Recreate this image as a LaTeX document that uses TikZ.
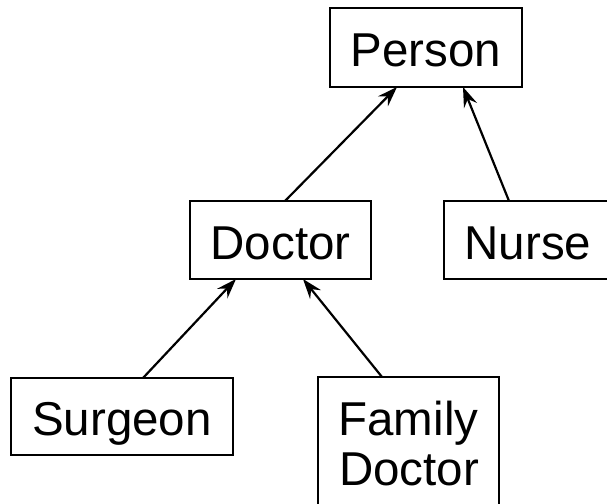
\documentclass[tikz,border=0pt]{standalone}
\usepackage{fontspec}
\setmainfont{Liberation Sans}
\usetikzlibrary{arrows.meta}

\tikzset{
  classbox/.style={draw, line width=2.2pt, inner sep=0pt, outer sep=0pt,
    text height=38pt, text depth=0pt,
    font=\fontsize{47.5}{50}\selectfont},
  boxlabel/.style={inner sep=0pt, outer sep=0pt,
    font=\fontsize{47.5}{50}\selectfont},
  inherits/.style={line width=2.2pt,
    -{Stealth[length=20pt, width=14pt, inset=7pt]}}
}

\begin{document}
\begin{tikzpicture}[x=1pt, y=-1pt]
  \useasboundingbox (0,0) rectangle (607,503);
  \clip (0,0) rectangle (607,503);

  % class boxes
  \node[classbox, minimum width=192pt, minimum height=79pt] (person)  at (426,47.5)  {Person};
  \node[classbox, minimum width=181pt, minimum height=78pt] (doctor)  at (280.5,240) {Doctor};
  \node[classbox, minimum width=168pt, minimum height=78pt] (nurse)   at (528,240)   {Nurse};
  \node[classbox, minimum width=222pt, minimum height=77pt] (surgeon) at (122,416.5) {Surgeon};
  \node[draw, line width=2.2pt, inner sep=0pt, outer sep=0pt,
        minimum width=181pt, minimum height=170pt, anchor=north] (family) at (408.5,377) {};
  \node[boxlabel, anchor=base west] (familyA) at (338.5,435) {Family};
  \node[boxlabel, anchor=base west] (familyB) at (339,485)   {Doctor};

  % generalisation arrows
  \draw[inherits] ([xshift=4.5pt]doctor.north)  -- ([xshift=-29pt]person.south);
  \draw[inherits] ([xshift=-19pt]nurse.north)   -- ([xshift=37pt]person.south);
  \draw[inherits] ([xshift=21pt]surgeon.north)  -- ([xshift=-44.5pt]doctor.south);
  \draw[inherits] ([xshift=-26.5pt]family.north) -- ([xshift=22.5pt]doctor.south);
\end{tikzpicture}
\end{document}
